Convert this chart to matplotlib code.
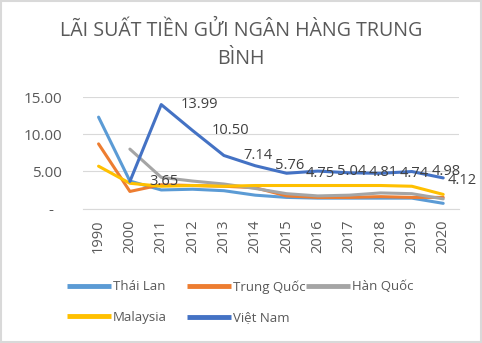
import numpy as np
import matplotlib.pyplot as plt
from matplotlib.patches import Rectangle

plt.rcParams['font.family'] = ['Open Sans', 'DejaVu Sans']

years = ['1990', '2000', '2011', '2012', '2013', '2014', '2015', '2016',
         '2017', '2018', '2019', '2020']
thai_lan = [12.3, 3.7, 2.5, 2.6, 2.4, 1.8, 1.5, 1.4, 1.4, 1.4, 1.4, 0.7]
trung_quoc = [8.7, 2.3, 3.2, 3.1, 3.0, 2.8, 1.7, 1.5, 1.5, 1.6, 1.5, 1.5]
han_quoc = [np.nan, 8.0, 4.2, 3.7, 3.3, 2.7, 2.0, 1.7, 1.8, 2.1, 2.0, 1.3]
malaysia = [5.7, 3.4, 3.0, 3.1, 3.0, 3.1, 3.1, 3.1, 3.1, 3.1, 3.0, 1.9]
viet_nam = [np.nan, 3.65, 13.99, 10.50, 7.14, 5.76, 4.75, 5.04, 4.81, 4.74, 4.98, 4.12]

series = [
    ('Thái Lan', thai_lan, '#5B9BD5'),
    ('Trung Quốc', trung_quoc, '#ED7D31'),
    ('Hàn Quốc', han_quoc, '#A5A5A5'),
    ('Malaysia', malaysia, '#FFC000'),
    ('Việt Nam', viet_nam, '#4472C4'),
]

text_col = '#595959'

fig = plt.figure(figsize=(4.82, 3.43), dpi=100)
fig.patches.append(Rectangle((0.002, 0.003), 0.996, 0.994, transform=fig.transFigure,
                             fill=False, edgecolor='#D9D9D9', linewidth=1.5))
ax = fig.add_axes([0.172, 0.392, 0.78, 0.325])

x = np.arange(len(years))
lines = {}
for name, vals, col in series:
    lines[name], = ax.plot(x, vals, color=col, linewidth=2.2, label=name,
                           solid_capstyle='round', solid_joinstyle='round')

# data labels on the Viet Nam series (last one squeezed inside the chart like Excel)
for i, (xi, v) in enumerate(zip(x, viet_nam)):
    if np.isnan(v):
        continue
    dx, dy = (14, 0) if i < len(x) - 1 else (3, -2)
    ax.annotate('%.2f' % v, (xi, v), xytext=(dx, dy), textcoords='offset points',
                ha='left', va='center', fontsize=10.5, color='#404040')

ax.set_xlim(-0.5, len(years) - 0.5)
ax.set_ylim(0, 15)
ax.set_yticks([0, 5, 10, 15])
ax.set_yticklabels(['-  ', '5.00', '10.00', '15.00'])
ax.set_xticks(x)
ax.set_xticklabels(years, rotation=90)
ax.tick_params(axis='both', length=0, labelcolor=text_col)
ax.tick_params(axis='y', pad=15, labelsize=11)
ax.tick_params(axis='x', pad=8, labelsize=10.5)
ax.grid(axis='y', color='#D9D9D9', linewidth=0.8)
ax.set_axisbelow(True)
for s in ['top', 'right', 'left']:
    ax.spines[s].set_visible(False)
ax.spines['bottom'].set_color('#D9D9D9')
ax.spines['bottom'].set_linewidth(0.8)

fig.text(0.5, 0.869, 'LÃI SUẤT TIỀN GỬI NGÂN HÀNG TRUNG\nBÌNH', ha='center', va='center',
         fontsize=14.1, color=text_col, linespacing=1.5)

# legend laid out like Excel: fixed column pitch, filled row by row
legend_cols = [(['Thái Lan', 'Malaysia'], 67), (['Trung Quốc', 'Việt Nam'], 187),
               (['Hàn Quốc'], 306)]
for names, px in legend_cols:
    leg = fig.legend([lines[n] for n in names], names, loc='upper left',
                     bbox_to_anchor=(px / 482, 0.183), frameon=False, fontsize=9.5,
                     handlelength=3.3, handletextpad=0.15, labelspacing=1.35,
                     borderaxespad=0, borderpad=0)
    for t in leg.get_texts():
        t.set_color(text_col)
    for h in leg.legend_handles:
        h.set_linewidth(3.5)
        h.set_solid_capstyle('butt')

fig.savefig('out.png', dpi=100)
